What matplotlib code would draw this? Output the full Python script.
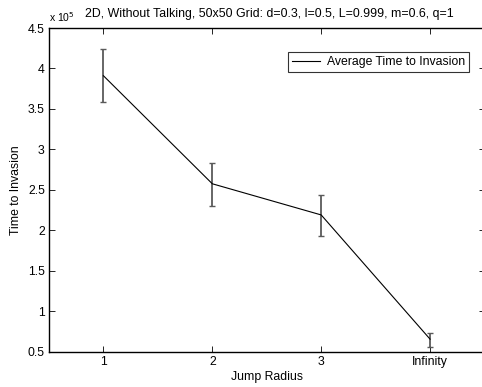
import matplotlib
matplotlib.use("Agg")
import matplotlib.pyplot as plt
import numpy as np

plt.rcParams['font.family'] = ['Liberation Sans', 'DejaVu Sans']

categories = ['1', '2', '3', 'Infinity']
avg_time = [3.91e5, 2.575e5, 2.19e5, 0.655e5]
err_low = [3.59e5, 2.30e5, 1.93e5, 0.56e5]
err_high = [4.24e5, 2.835e5, 2.44e5, 0.725e5]
yticks = [0.5, 1, 1.5, 2, 2.5, 3, 3.5, 4, 4.5]

scale = 1e5
x = np.arange(1, len(categories) + 1)
y = np.array(avg_time) / scale
lo = y - np.array(err_low) / scale
hi = np.array(err_high) / scale - y

fs = 8.8
fig = plt.figure(figsize=(4.82, 3.87), dpi=100)
ax = fig.add_axes([49/482, 35.3/387, 435.5/482, 323.7/387])

ax.errorbar(x, y, yerr=[lo, hi], fmt='none', ecolor='#5a5a5a', elinewidth=1.3,
            capsize=2.2, capthick=1.0)
ax.plot(x, y, color='black', linewidth=0.8, label='Average Time to Invasion')

ax.set_xlim(0.5, 4.5)
ax.set_ylim(0.5, 4.5)
ax.set_xticks(x)
ax.set_xticklabels(categories)
ax.set_yticks(yticks)
ax.set_yticklabels(['%g' % v for v in yticks])
ax.tick_params(direction='in', length=4, width=0.6, top=True, right=True,
               labelsize=fs, pad=3)
for s in ax.spines.values():
    s.set_linewidth(1.0)

ax.set_xlabel('Jump Radius', fontsize=fs, labelpad=2)
ax.set_ylabel('Time to Invasion', fontsize=fs, labelpad=4)
ax.set_title('2D, Without Talking, 50x50 Grid: d=0.3, l=0.5, L=0.999, m=0.6, q=1',
             fontsize=8.9, pad=8, x=0.505)
ax.text(0.0, 1.012, r'x 10$^{5}$', transform=ax.transAxes, fontsize=7.5,
        ha='left', va='bottom')

leg = ax.legend(loc='upper right', bbox_to_anchor=(469/482, 1 - 51.7/387), bbox_transform=fig.transFigure,
                fontsize=8.8, frameon=True, fancybox=False, handlelength=2.3,
                borderpad=0.35, handletextpad=0.5, borderaxespad=0)
leg.get_frame().set_edgecolor('black')
leg.get_frame().set_linewidth(0.8)

fig.savefig('out.png', dpi=100)
